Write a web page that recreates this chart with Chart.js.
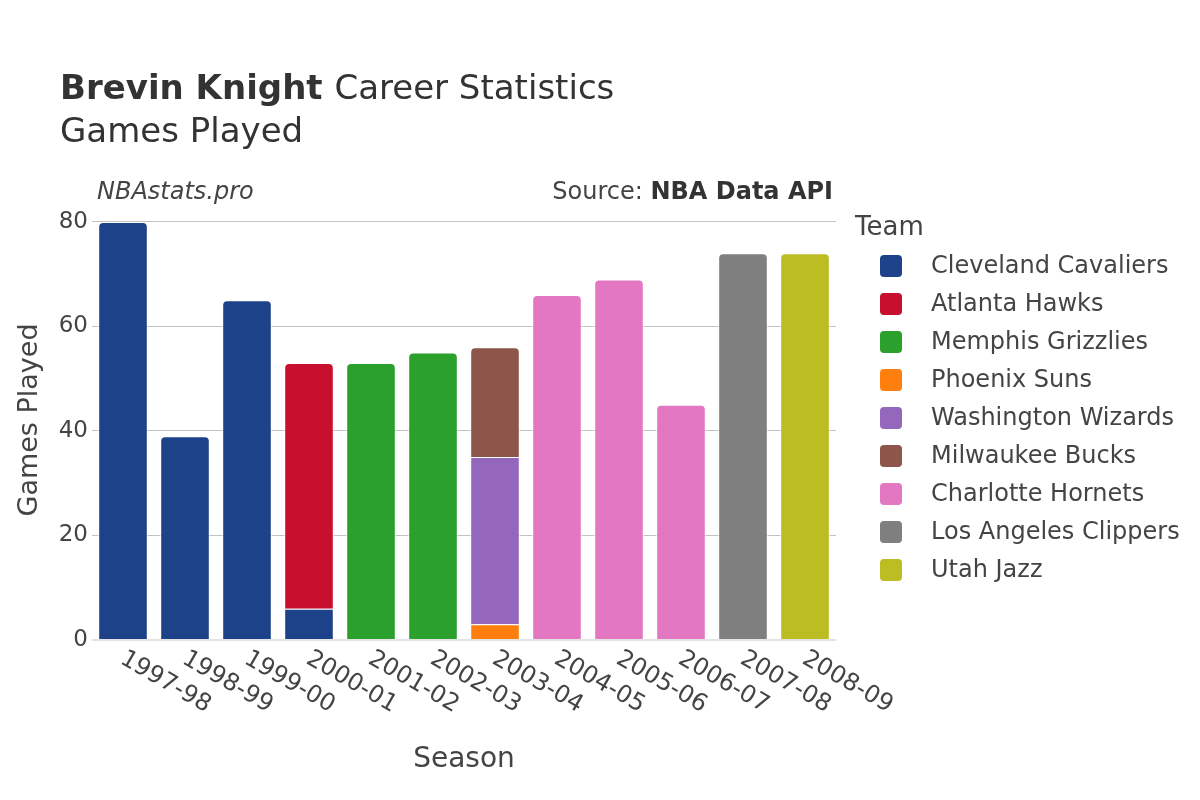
<!DOCTYPE html>
<html>
<head>
<meta charset="utf-8">
<script src="https://cdn.jsdelivr.net/npm/chart.js@4"></script>
<style>
html, body { margin: 0; padding: 0; background: #fff; }
</style>
</head>
<body>
<canvas id="myChart" width="1200" height="800"></canvas>
<script>
// seasons on the x axis
let seasons = ['1997-98', '1998-99', '1999-00', '2000-01', '2001-02', '2002-03',
    '2003-04', '2004-05', '2005-06', '2006-07', '2007-08', '2008-09']

let teams = ['Cleveland Cavaliers', 'Atlanta Hawks', 'Memphis Grizzlies', 'Phoenix Suns',
    'Washington Wizards', 'Milwaukee Bucks', 'Charlotte Hornets', 'Los Angeles Clippers', 'Utah Jazz']

let teamColors = ['#1d428a', '#c8102e', '#2ca02c', '#ff7f0e', '#9467bd', '#8c564b', '#e377c2', '#7f7f7f', '#bcbd22']

// games played per season, one list per team (null = did not play there)
let cleveland = [80, 39, 65, 6, null, null, null, null, null, null, null, null]
let atlanta = [null, null, null, 47, null, null, null, null, null, null, null, null]
let memphis = [null, null, null, null, 53, 55, null, null, null, null, null, null]
let phoenix = [null, null, null, null, null, null, 3, null, null, null, null, null]
let washington = [null, null, null, null, null, null, 32, null, null, null, null, null]
let milwaukee = [null, null, null, null, null, null, 21, null, null, null, null, null]
let charlotte = [null, null, null, null, null, null, null, 66, 69, 45, null, null]
let clippers = [null, null, null, null, null, null, null, null, null, null, 74, null]
let utah = [null, null, null, null, null, null, null, null, null, null, null, 74]

let yTicks = [0, 20, 40, 60, 80]

let teamData = [cleveland, atlanta, memphis, phoenix, washington, milwaukee, charlotte, clippers, utah]

const FONT = '"DejaVu Sans", sans-serif'
const TEXT = '#444'

let datasets = teams.map(function (name, i) {
    return {
        label: name,
        data: teamData[i],
        backgroundColor: teamColors[i],
        borderColor: '#ffffff',
        borderWidth: 1,
        borderRadius: 5,
        barPercentage: 0.8,
        categoryPercentage: 1,
    }
})

// titles, notes, rotated season labels and the legend
const overlay = {
    id: 'overlay',
    afterDraw(chart) {
        const ctx = chart.ctx
        const xs = chart.scales.x
        ctx.save()
        ctx.textBaseline = 'middle'
        ctx.textAlign = 'left'

        ctx.fillStyle = '#333'
        ctx.font = 'bold 34px ' + FONT
        ctx.fillText('Brevin Knight', 60, 90)
        let w = ctx.measureText('Brevin Knight ').width
        ctx.font = '34px ' + FONT
        ctx.fillText('Career Statistics', 60 + w, 90)
        ctx.fillText('Games Played', 60, 133)

        ctx.fillStyle = TEXT
        ctx.font = 'italic 24px ' + FONT
        ctx.fillText('NBAstats.pro', 97, 193)

        ctx.textAlign = 'right'
        ctx.font = 'bold 24px ' + FONT
        ctx.fillStyle = '#333'
        ctx.fillText('NBA Data API', 833, 193)
        let bw = ctx.measureText('NBA Data API').width
        ctx.font = '24px ' + FONT
        ctx.fillStyle = TEXT
        ctx.fillText('Source: ', 833 - bw, 193)

        // season labels
        ctx.textAlign = 'left'
        ctx.font = '24px ' + FONT
        seasons.forEach(function (s, i) {
            let x = xs.getPixelForValue(i)
            ctx.save()
            ctx.translate(x - 1, 657)
            ctx.rotate(Math.PI / 6)
            ctx.fillText(s, 0, 0)
            ctx.restore()
        })

        // legend
        ctx.font = '26px ' + FONT
        ctx.fillText('Team', 855, 228)
        ctx.font = '24px ' + FONT
        teams.forEach(function (t, i) {
            let y = 267 + i * 38
            ctx.fillStyle = teamColors[i]
            ctx.beginPath()
            ctx.roundRect(880, y - 12, 22, 22, 4)
            ctx.fill()
            ctx.fillStyle = TEXT
            ctx.fillText(t, 931, y)
        })
        ctx.restore()
    }
}

let currChart = document.getElementById('myChart').getContext('2d')

new Chart(currChart, {
    type: 'bar',
    data: {
        labels: seasons,
        datasets: datasets
    },
    options: {
        responsive: false,
        animation: false,
        layout: {
            padding: { left: 0, right: 364, top: 200, bottom: 0 }
        },
        scales: {
            x: {
                stacked: true,
                grid: { display: false },
                border: { display: false },
                ticks: { display: false },
                title: {
                    display: true,
                    text: 'Season',
                    color: TEXT,
                    font: { size: 28, family: FONT },
                    padding: { top: 0, bottom: 23 }
                },
                afterFit: function (scale) { scale.height = 160 }
            },
            y: {
                stacked: true,
                min: 0,
                max: 84.2,
                afterBuildTicks: function (scale) {
                    scale.ticks = yTicks.map(function (v) { return { value: v } })
                },
                ticks: {
                    color: TEXT,
                    padding: 4,
                    font: { size: 23, family: FONT }
                },
                grid: {
                    drawTicks: false,
                    color: function (c) { return c.tick && c.tick.value === 0 ? '#e4e4e4' : '#c2c2c2' },
                    lineWidth: function (c) { return c.tick && c.tick.value === 0 ? 2 : 1 }
                },
                border: { display: false },
                title: {
                    display: true,
                    text: 'Games Played',
                    color: TEXT,
                    font: { size: 27, family: FONT },
                    padding: { top: 14 }
                },
                afterFit: function (scale) { scale.width = 92 }
            }
        },
        plugins: {
            legend: { display: false },
            tooltip: { enabled: false }
        }
    },
    plugins: [overlay]
})
</script>
</body>
</html>
